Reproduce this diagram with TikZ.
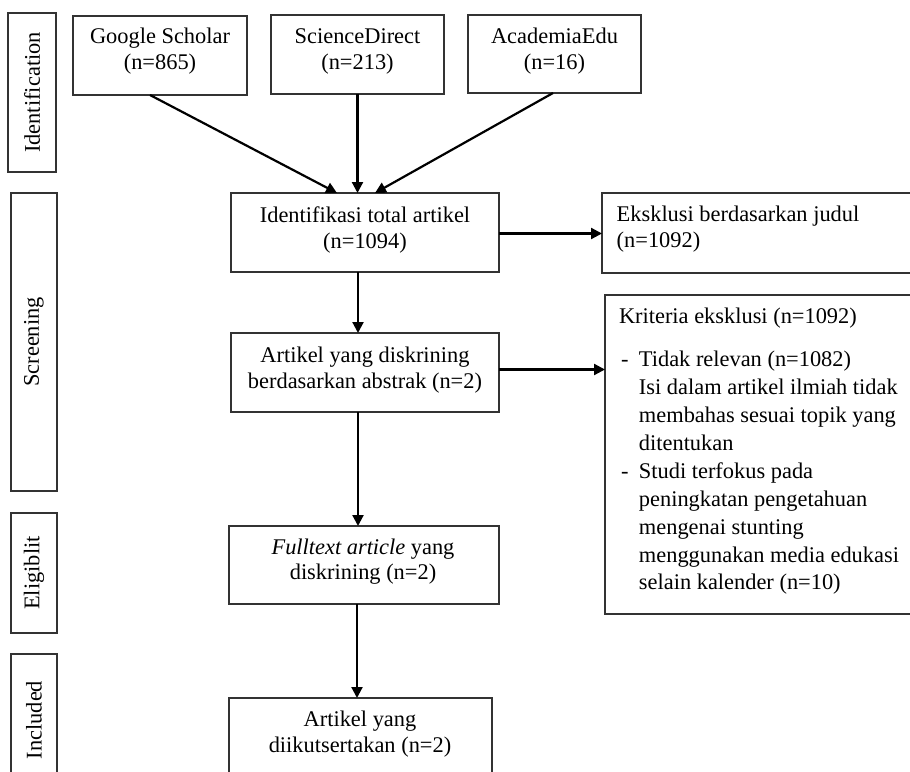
\documentclass[tikz,border=0pt]{standalone}
\usepackage{fontspec}
\setmainfont{Liberation Serif}
\usetikzlibrary{arrows.meta}
\newcommand{\mainsz}{\fontsize{22.4}{25.7}\selectfont}
\newcommand{\listsz}{\fontsize{22.4}{27.9}\selectfont}
\begin{document}
\begin{tikzpicture}[x=1pt,y=-1pt,
  box/.style={draw=black!80, line width=1.2pt, inner sep=0pt, outer sep=0pt, anchor=north west},
  txt/.style={font=\mainsz, inner sep=0pt, outer sep=0pt, anchor=base},
  vtxt/.style={font=\mainsz, inner sep=0pt, rotate=90},
  arr/.style={line width=2.2pt, -{Triangle[length=11pt,width=11pt]}},
]
\useasboundingbox (0,0) rectangle (910,771);
\fill[white] (0,0) rectangle (910,771);
\clip (0,0) rectangle (910,771);
\setlength{\tabcolsep}{0pt}

% phase boxes
\node[box, minimum width=48pt, minimum height=159pt] (lid) at (8,13) {};
\node[box, minimum width=46pt, minimum height=298pt] (lsc) at (11,193) {};
\node[box, minimum width=46pt, minimum height=120pt] (lel) at (11,513) {};
\node[box, minimum width=46pt, minimum height=140pt] (lin) at (11,654) {};
\node[vtxt] (tid) at (lid.center) {Identification};
\node[vtxt] (tsc) at (lsc.center) {Screening};
\node[vtxt] (tel) at (lel.center) {Eligiblit};
\node[vtxt] (tin) at (34,720) {Included};

% source boxes
\node[box, minimum width=174pt, minimum height=79pt] (gs) at (73,16) {};
\node[box, minimum width=173pt, minimum height=79pt] (sd) at (271,15) {};
\node[box, minimum width=173pt, minimum height=78pt] (ae) at (468,15) {};
\node[txt] (tgs) at (160,43.3) {\begin{tabular}[t]{c}Google Scholar\\(n=865)\end{tabular}};
\node[txt] (tsd) at (357.5,43.3) {\begin{tabular}[t]{c}ScienceDirect\\(n=213)\end{tabular}};
\node[txt] (tae) at (554.5,43.3) {\begin{tabular}[t]{c}AcademiaEdu\\(n=16)\end{tabular}};

% main flow
\node[box, minimum width=268pt, minimum height=79pt] (ident) at (231,193) {};
\node[box, minimum width=268pt, minimum height=79pt] (screen) at (231,333) {};
\node[box, minimum width=270pt, minimum height=78pt] (full) at (229,526) {};
\node[box, minimum width=263pt, minimum height=100pt] (incl) at (229,698) {};
\node[txt] (tident) at (365,222.7) {\begin{tabular}[t]{c}Identifikasi total artikel\\(n=1094)\end{tabular}};
\node[txt] (tscreen) at (365,362.7) {\begin{tabular}[t]{c}Artikel yang diskrining\\berdasarkan abstrak (n=2)\end{tabular}};
\node[txt] (tfull) at (363,554) {\begin{tabular}[t]{c}\textit{Fulltext article} yang\\diskrining (n=2)\end{tabular}};
\node[txt] (tincl) at (360,726.7) {\begin{tabular}[t]{c}Artikel yang\\diikutsertakan (n=2)\end{tabular}};

% exclusion boxes
\node[box, minimum width=315pt, minimum height=80pt] (excl) at (602,193) {};
\node[box, minimum width=315pt, minimum height=319pt] (krit) at (605,295) {};
\node[txt, anchor=base west] (texcl) at (616.7,221.7) {\begin{tabular}[t]{l}Eksklusi berdasarkan judul\\(n=1092)\end{tabular}};
\node[txt, anchor=base west] (tkrit) at (619,323) {Kriteria eksklusi (n=1092)};
\node[inner sep=0pt, outer sep=0pt, anchor=base west, font=\listsz] (tlist) at (621,366.7) {\begin{tabular}[t]{@{}l@{\hspace{10.5pt}}l@{}}
- & Tidak relevan (n=1082)\\
 & Isi dalam artikel ilmiah tidak\\
 & membahas sesuai topik yang\\
 & ditentukan\\
- & Studi terfokus pada\\
 & peningkatan pengetahuan\\
 & mengenai stunting\\
 & menggunakan media edukasi\\
 & selain kalender (n=10)
\end{tabular}};

% connectors
\draw[arr] ([xshift=-10pt]gs.south) -- ([xshift=-28pt]ident.north);
\draw[arr] (sd.south) -- (sd.south |- ident.north);
\draw[arr] ([xshift=-1.5pt]ae.south) -- ([xshift=10pt]ident.north);
\draw[arr] ([yshift=-1pt]ident.east) -- ([yshift=-1pt]ident.east -| excl.west);
\draw[arr] ([xshift=-7pt]ident.south) -- ([xshift=-7pt]screen.north);
\coordinate (s1) at ([yshift=3pt]screen.east);
\draw[arr] (s1) -- (s1 -| krit.west);
\draw[arr] ([xshift=-7pt]screen.south) -- ([xshift=-7pt]screen.south |- full.north);
\draw[arr] ([xshift=-7pt]full.south) -- ([xshift=-7pt]full.south |- incl.north);
\end{tikzpicture}
\end{document}
